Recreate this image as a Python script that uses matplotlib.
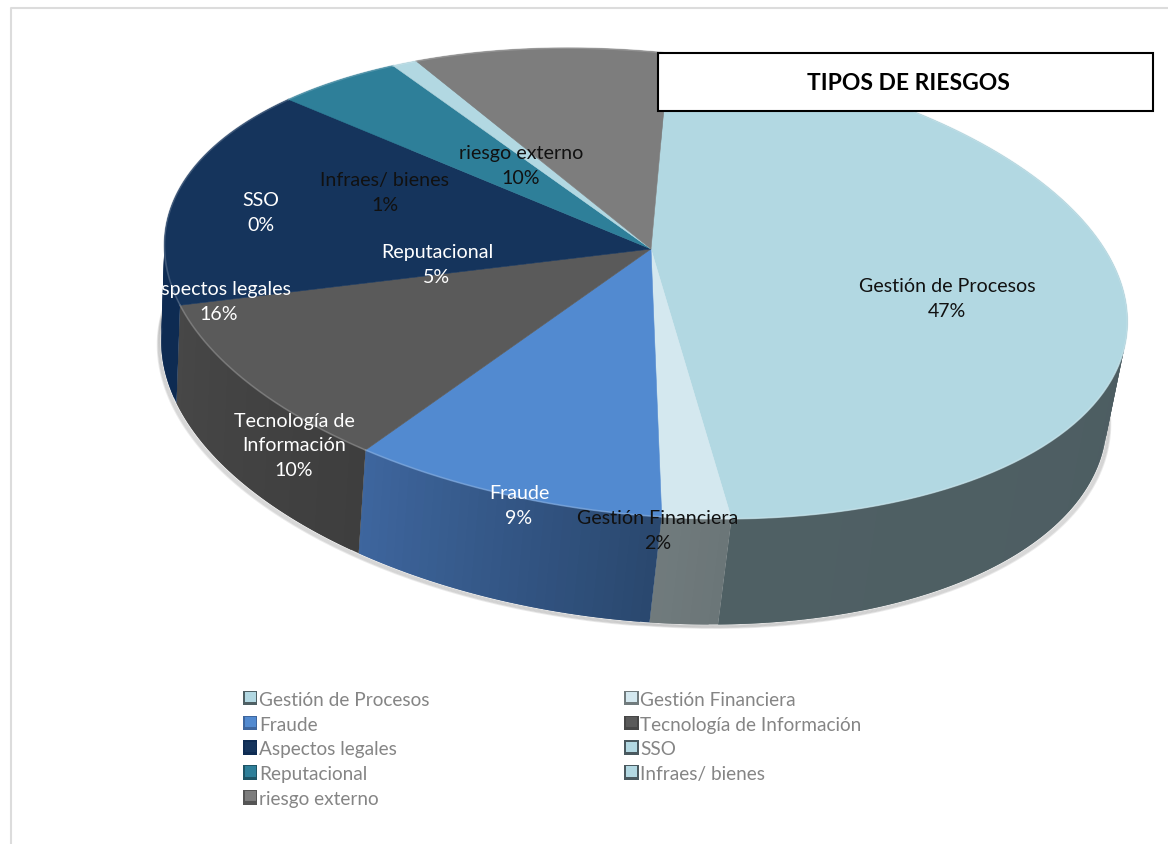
import matplotlib

matplotlib.use("Agg")

import numpy as np
import matplotlib.pyplot as plt
from matplotlib.colors import to_rgb
from matplotlib.legend_handler import HandlerBase
from matplotlib.patches import Patch, Rectangle

categories = ["Gestión de Procesos", "Gestión Financiera", "Fraude",
              "Tecnología de\nInformación", "Aspectos legales", "SSO",
              "Reputacional", "Infraes/ bienes", "riesgo externo"]
values = [47, 2, 9, 10, 16, 0, 5, 1, 10]

top_colors = ["#b2d8e2", "#d4e8ef", "#528ad0", "#5a5a5a", "#15345c",
              "#b2d8e2", "#2e7f99", "#b2d8e2", "#7d7d7d"]
wall_left = ["#4f6064", "#717b7d", "#3e669e", "#474747", "#0e2b52",
             "#4a595f", "#1f5566", "#4a595f", "#555555"]
wall_right = ["#4a595f", "#6b7678", "#2a486f", "#3e3e3e", "#0e2b52",
              "#4a595f", "#1f5566", "#4a595f", "#555555"]
text_colors = ["#111111", "#111111", "white", "white", "white",
               "white", "white", "#111111", "#111111"]
label_xy = [(947, 299), (658, 531), (519, 506), (294, 446), (219, 302),
            (261, 213), (437, 265), (385, 193), (521, 166)]

legend_order = [0, 2, 4, 6, 8, 1, 3, 5, 7]

# projection of the tilted disc
CX, CY = 651, 250
RX, RY = 476, 227
PERSP_V = 0.15
PERSP_U = 0.0104
SHEAR = 0.08
START = 2.5


def rim_top(theta):
    t = np.radians(theta)
    u, v = np.sin(t), np.cos(t)
    w = 1 + PERSP_V * v + PERSP_U * u
    x = RX * u / w
    y = -RY * v / w + SHEAR * x
    return CX + x, CY + y


def rim_bottom(theta):
    x, y = rim_top(theta)
    return CX - 12 + 0.982 * (x - CX), CY + 96 + 1.036 * (y - CY)


class BevelHandler(HandlerBase):
    def create_artists(self, legend, orig_handle, xdescent, ydescent, width, height, fontsize, trans):
        side = 10.5
        x0 = -xdescent
        y0 = -ydescent + (height - side) / 2
        outer = Rectangle((x0, y0), side, side, facecolor=orig_handle.get_edgecolor(),
                          edgecolor="none", transform=trans)
        inner = Rectangle((x0 + side * 0.14, y0 + side * 0.22), side * 0.74, side * 0.7,
                          facecolor=orig_handle.get_facecolor(), edgecolor="none", transform=trans)
        return [outer, inner]


fig = plt.figure(figsize=(11.68, 8.45), dpi=100, facecolor="white")
ax = fig.add_axes([0, 0, 1, 1])
ax.set_xlim(0, 1168)
ax.set_ylim(845, 0)
ax.axis("off")

# chart frame, runs off the right and bottom edges
ax.plot([11, 11, 1170], [850, 9, 9], color="#dcdcdc", lw=1.5, zorder=1)

edges = START + np.concatenate([[0], np.cumsum(values)]) * 3.6

# soft shadow below the lower rim
sh = np.linspace(edges[0] + 70, edges[0] + 305, 240)
sx, sy = rim_bottom(sh)
for i in range(5, 0, -1):
    ax.plot(sx + i * 0.7 * np.sign(np.sin(np.radians(sh))), sy + i * 0.7,
            color="black", alpha=0.08, lw=1.4, zorder=2)

# side walls, slice by slice; each strip overlaps the next to hide seams
for k in range(len(values)):
    if values[k] == 0:
        continue
    angles = np.arange(edges[k], edges[k + 1], 1.0)
    angles = np.r_[angles, edges[k + 1]]
    c_right, c_left = np.array(to_rgb(wall_right[k])), np.array(to_rgb(wall_left[k]))
    for j in range(len(angles) - 1):
        f = j / max(len(angles) - 2, 1)
        a = np.linspace(angles[j], angles[min(j + 2, len(angles) - 1)], 4)
        tx, ty = rim_top(a)
        bx, by = rim_bottom(a)
        col = c_right * (1 - f) + c_left * f
        ax.fill(np.r_[tx, bx[::-1]], np.r_[ty, by[::-1]], color=col, lw=0, zorder=3)

# top surface
for k in range(len(values)):
    if values[k] == 0:
        continue
    angles = np.linspace(edges[k], edges[k + 1], 200)
    rx, ry = rim_top(angles)
    ax.fill(np.r_[CX, rx], np.r_[CY, ry], color=top_colors[k], lw=0.4, zorder=4)
    # pale bevel along the front of the rim
    shade = np.array(to_rgb(top_colors[k])) * 0.7 + 0.3
    ax.plot(rx, ry, color=shade, lw=1.2, alpha=0.6, zorder=5)

for k in range(len(values)):
    x, y = label_xy[k]
    ax.text(x, y, f"{categories[k]}\n{values[k]}%", color=text_colors[k], ha="center", va="center",
            family="Lato", fontsize=14.1, linespacing=1.56, zorder=6)

# title box
ax.add_patch(Rectangle((658, 54), 495, 58, facecolor="white", edgecolor="black", lw=1.5, zorder=7))
ax.text(908, 83, "TIPOS DE RIESGOS", ha="center", va="center", family="Lato", fontweight="bold",
        fontsize=16.5, color="black", zorder=8)

handles = [Patch(facecolor=top_colors[i], edgecolor=wall_left[i],
                 label=categories[i].replace("\n", " ")) for i in legend_order]
leg = fig.legend(handles=handles, handler_map={Patch: BevelHandler()}, ncol=2,
                 loc="upper left", bbox_to_anchor=(239 / 1168, 1 - 688 / 845), frameon=False,
                 prop={"family": "Lato", "size": 13.7},
                 labelcolor="#858585", handlelength=0.77, handletextpad=0.1,
                 columnspacing=10.2, labelspacing=0.41, borderpad=0.2, borderaxespad=0)

fig.savefig("out.png", dpi=100)
